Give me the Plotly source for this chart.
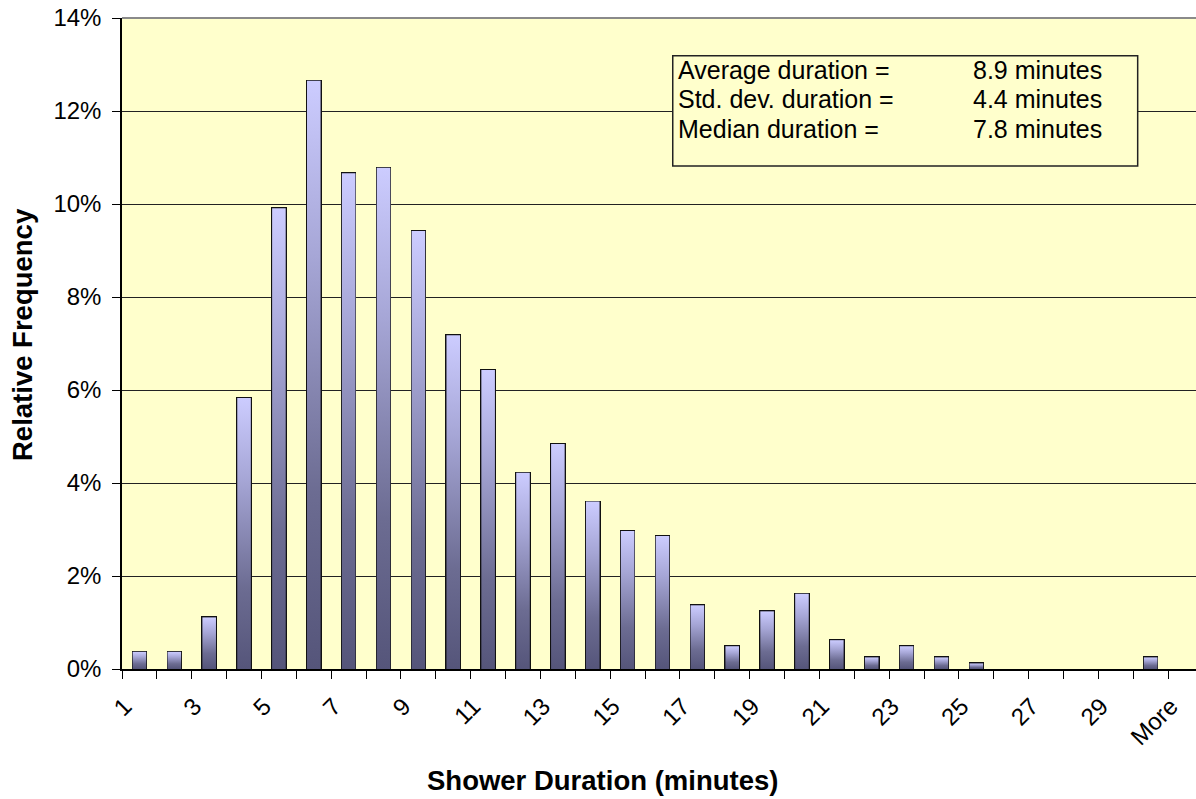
import plotly.graph_objects as go

# ---- data ----
categories = [str(i) for i in range(1, 31)] + ["More"]
rel_freq = [0.37, 0.37, 1.11, 5.83, 9.91, 12.65, 10.66, 10.78, 9.42, 7.18,
            6.43, 4.22, 4.84, 3.60, 2.97, 2.86, 1.37, 0.49, 1.24, 1.62,
            0.62, 0.25, 0.49, 0.25, 0.12, 0.0, 0.0, 0.0, 0.0, 0.25, 0.0]
rel_freq = [v / 100 for v in rel_freq]
stat_labels = ["Average duration =", "Std. dev. duration =", "Median duration ="]
stat_values = ["8.9 minutes", "4.4 minutes", "7.8 minutes"]

positions = list(range(1, len(categories) + 1))
LABEL_SHIFT = 0.42  # rotated labels sit slightly left of the category centre
tick_pos = [p - LABEL_SHIFT for p in positions[::2]]
tick_txt = categories[::2]

FONT = "Liberation Sans, Arial, sans-serif"
BAR_W = 0.39
grad = [[0, "#55557a"], [0.3, "#6c6c92"], [0.7, "#a6a6d6"], [1, "#ccccff"]]

fig = go.Figure()

# gradient fills of bars
for p, v in zip(positions, rel_freq):
    if v <= 0:
        continue
    fig.add_trace(go.Scatter(
        x=[p - BAR_W / 2, p + BAR_W / 2, p + BAR_W / 2, p - BAR_W / 2, p - BAR_W / 2],
        y=[0, 0, v, v, 0],
        fill="toself", mode="none",
        fillgradient=dict(type="vertical", colorscale=grad),
        hoverinfo="skip", showlegend=False,
    ))

# bar outlines
fig.add_trace(go.Bar(
    x=positions, y=[v if v > 0 else None for v in rel_freq], width=BAR_W,
    marker=dict(color="rgba(0,0,0,0)", line=dict(color="#111111", width=2)),
    showlegend=False,
))

W, H = 1196, 799
L, R, T, B = 122, 0, 18, 130
cat_px = 34.87
plot_w = W - L - R
x_max = 0.5 + plot_w / cat_px

fig.update_layout(
    width=W, height=H,
    margin=dict(l=L, r=R, t=T, b=B),
    paper_bgcolor="white", plot_bgcolor="#FFFFCC",
    font=dict(family=FONT, size=24, color="black"),
    bargap=0,
    xaxis=dict(
        range=[0.5, x_max], tickmode="array", tickvals=tick_pos, ticktext=tick_txt,
        tickangle=-45, ticks="", showgrid=False, zeroline=False,
        showline=True, linecolor="black", linewidth=1.5,
        tickfont=dict(size=24), ticklabeloverflow="allow", ticklabelstandoff=12,
        minor=dict(tick0=0.5, dtick=1, ticks="outside", ticklen=8,
                   tickcolor="black", tickwidth=1.2, showgrid=False),
    ),
    yaxis=dict(
        range=[0, 0.14], dtick=0.02, tickformat=".0%",
        showgrid=True, gridcolor="#222222", gridwidth=1,
        zeroline=False, showline=True, linecolor="black", linewidth=1.5,
        ticks="outside", ticklen=8, tickcolor="black", tickwidth=1.2,
        tickfont=dict(size=24), ticklabelstandoff=6,
    ),
    shapes=[
        dict(type="line", xref="paper", yref="paper", x0=0, x1=1, y0=1, y1=1,
             line=dict(color="#8a8a8a", width=2)),
        dict(type="rect", xref="paper", yref="paper",
             x0=0.5128, x1=0.9457, y0=0.7727, y1=0.9421,
             fillcolor="#FFFFCC", line=dict(color="#222222", width=1.5)),
    ],
)

row_y = [0.920, 0.8756, 0.8295]
for lab, val, yy in zip(stat_labels, stat_values, row_y):
    fig.add_annotation(xref="paper", yref="paper", x=0.5162, y=yy, text=lab,
                       showarrow=False, xanchor="left", yanchor="middle",
                       font=dict(size=25))
    fig.add_annotation(xref="paper", yref="paper", x=0.9148, y=yy, text=val,
                       showarrow=False, xanchor="right", yanchor="middle",
                       font=dict(size=25))

fig.add_annotation(xref="paper", yref="paper", x=(602 - L) / plot_w,
                   y=-(780 - (H - B)) / (H - B - T),
                   text="<b>Shower Duration (minutes)</b>", showarrow=False,
                   xanchor="center", yanchor="middle", font=dict(size=27.5))
fig.add_annotation(xref="paper", yref="paper", x=-(L - 22) / plot_w,
                   y=((H - B) - 335) / (H - B - T),
                   text="<b>Relative Frequency</b>", showarrow=False, textangle=-90,
                   xanchor="center", yanchor="middle", font=dict(size=27.5))

fig.write_html("out.html")
